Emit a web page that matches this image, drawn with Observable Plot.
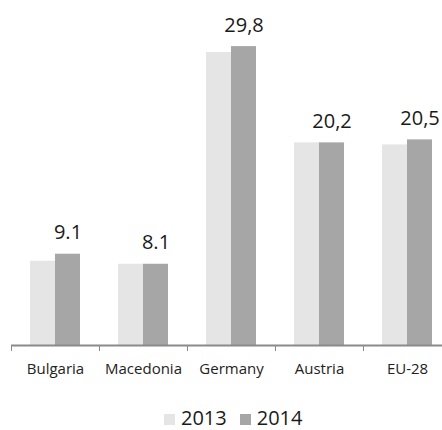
<!DOCTYPE html>
<html>
<head>
<meta charset="utf-8">
<script src="https://cdn.jsdelivr.net/npm/d3@7"></script>
<script src="https://cdn.jsdelivr.net/npm/@observablehq/plot@0.6"></script>
<style>
  html, body { margin: 0; padding: 0; background: #fff; overflow: hidden; }
  #chart { width: 442px; height: 430px; position: relative; }
  #chart svg { display: block; }
  div.lg-swatches { margin: 0 !important; }
  div.lg-swatches-wrap { min-height: 0 !important; height: 25px; align-items: baseline !important; padding-left: 164px; padding-top: 0; }
  div.lg-swatches .lg-swatch { align-items: baseline !important; margin-right: 13px !important; line-height: 25px; }
  div.lg-swatches .lg-swatch > svg { margin-right: 6px !important; }
</style>
</head>
<body>
<div id="chart"></div>
<script>
const countries = ["Bulgaria", "Macedonia", "Germany", "Austria", "EU-28"];
const years = ["2013", "2014"];
const values2013 = [8.4, 8.1, 29.2, 20.2, 20.0];
const values2014 = [9.1, 8.1, 29.8, 20.2, 20.5];
const labels2014 = ["9.1", "8.1", "29,8", "20,2", "20,5"];
const colors = ["#e5e5e5", "#a6a6a6"];

const data = countries.map((c, i) => ({
  country: c, v2013: values2013[i], v2014: values2014[i], label: labels2014[i]
}));

const font = "'Open Sans', sans-serif";

const plot = Plot.plot({
  width: 442,
  height: 405,
  marginLeft: 11,
  marginRight: -9,
  marginTop: 14,
  marginBottom: 60,
  style: { fontFamily: font, fontSize: "15px", color: "#222", background: "#fff" },
  x: { domain: countries, padding: 0, label: null, tickSize: 0, tickPadding: 18 },
  y: { domain: [0, 33], axis: null },
  marks: [
    Plot.barY(data, { x: "country", y: "v2013", fill: colors[0], insetLeft: 19, insetRight: 44 }),
    Plot.barY(data, { x: "country", y: "v2014", fill: colors[1], insetLeft: 44, insetRight: 19 }),
    Plot.barY(data, { x: "country", y1: 0, y2: -0.6, fill: "#8a8a8a", insetLeft: 0, insetRight: 87 }),
    Plot.ruleY([0], { stroke: "#8a8a8a", strokeWidth: 2 }),
    Plot.text(data, { x: "country", y: "v2014", text: "label", dx: 12.5, dy: -15, lineAnchor: "bottom", fontSize: 20, fill: "#1a1a1a" })
  ]
});

const legend = Plot.legend({
  color: { domain: years, range: colors },
  legend: "swatches",
  swatchSize: 11,
  className: "lg",
  style: { fontFamily: font, fontSize: "20px", color: "#1a1a1a" }
});

const chart = document.getElementById("chart");
chart.appendChild(plot);
chart.appendChild(legend);
</script>
</body>
</html>
